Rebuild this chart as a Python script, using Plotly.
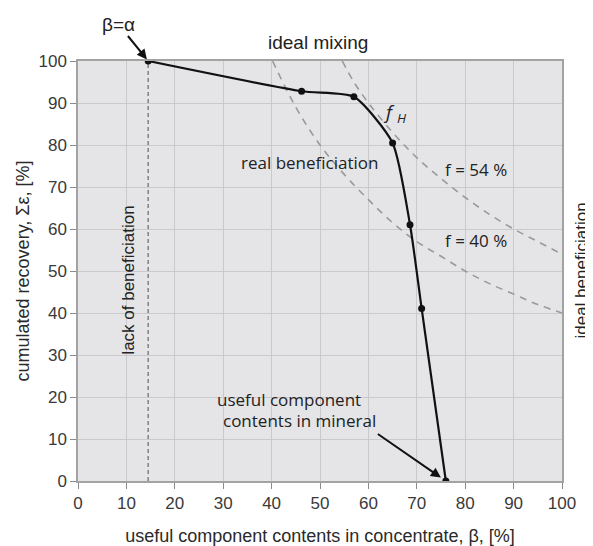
import plotly.graph_objects as go

# measured beneficiation curve (beta, cumulated recovery)
beta = [14.5, 46.2, 57.0, 65.0, 68.6, 71.0, 76.0]
recovery = [100, 92.8, 91.5, 80.5, 61.0, 41.1, 0]

# isolines
f54_x = [54.6, 57, 60, 65, 70, 75, 80, 85, 90, 95, 100]
f54_y = [100, 95, 90, 83, 77, 72, 67.5, 63.5, 60, 57, 54]
f40_x = [40.2, 45, 50, 55, 60, 65, 70, 75, 80, 85, 90, 95, 100]
f40_y = [100, 89, 80, 73, 67, 61.5, 57, 53.5, 50, 47, 44.5, 42, 40]

# feed grade (vertical "lack of beneficiation" line)
alpha_x = [14.5, 14.5]
alpha_y = [0, 100]

x_ticks = list(range(0, 101, 10))
y_ticks = list(range(0, 101, 10))

SANS = "Liberation Sans, Arial, sans-serif"
HUM = "Open Sans, Noto Sans, sans-serif"

fig = go.Figure()

fig.add_trace(go.Scatter(x=f54_x, y=f54_y, mode="lines", line_shape="spline",
                         line=dict(color="#9a9a9a", width=1.6, dash="7px,6px"),
                         hoverinfo="skip"))
fig.add_trace(go.Scatter(x=f40_x, y=f40_y, mode="lines", line_shape="spline",
                         line=dict(color="#9a9a9a", width=1.6, dash="7px,6px"),
                         hoverinfo="skip"))
fig.add_trace(go.Scatter(x=alpha_x, y=alpha_y, mode="lines",
                         line=dict(color="#808080", width=1.5, dash="4px,3px"),
                         hoverinfo="skip"))
fig.add_trace(go.Scatter(x=beta, y=recovery, mode="lines+markers",
                         line=dict(color="#111111", width=2.2, shape="spline", smoothing=0.6),
                         marker=dict(color="#111111", size=7)))

annotations = [
    dict(text="β=α", x=14.5, y=100, ax=-30, ay=-37, showarrow=True,
         arrowhead=2, arrowsize=1, arrowwidth=2, arrowcolor="#111", standoff=2,
         font=dict(family=SANS, size=19, color="#222")),
    dict(text="ideal mixing", xref="paper", yref="paper", x=0.496, y=1.045,
         xanchor="center", yanchor="middle", showarrow=False,
         font=dict(family=SANS, size=19, color="#222")),
    dict(text="<i>f <sub>H</sub></i>", x=65.5, y=87.7, showarrow=False,
         font=dict(family=HUM, size=19, color="#222")),
    dict(text="real beneficiation", x=47.9, y=75.8, showarrow=False,
         font=dict(family=HUM, size=17, color="#222")),
    dict(text="f = 54 %", x=82.2, y=74.1, showarrow=False,
         font=dict(family=HUM, size=17, color="#222")),
    dict(text="f = 40 %", x=82.2, y=57.2, showarrow=False,
         font=dict(family=HUM, size=17, color="#222")),
    dict(text="useful component", x=43.6, y=19.5, showarrow=False,
         font=dict(family=HUM, size=17, color="#222")),
    dict(text="contents in mineral", x=76, y=0, ax=-68, ay=-47, showarrow=True,
         xanchor="right", yanchor="bottom",
         arrowhead=2, arrowsize=1, arrowwidth=2, arrowcolor="#111", standoff=6,
         font=dict(family=HUM, size=17, color="#222")),
    dict(text="lack of beneficiation", x=10.5, y=47.9, textangle=-90, showarrow=False,
         font=dict(family=SANS, size=17, color="#222")),
    dict(text="ideal beneficiation", xref="paper", yref="paper", x=1.040, y=0.502,
         xanchor="center", yanchor="middle",
         textangle=-90, showarrow=False, font=dict(family=SANS, size=17, color="#222")),
]

axis_common = dict(
    showgrid=True, gridcolor="#cacacd", gridwidth=1,
    showline=True, linecolor="#a3a3a3", linewidth=1.5, mirror=True,
    ticks="outside", ticklen=6, tickcolor="#8a8a8a",
    tickfont=dict(family=SANS, size=17, color="#3a3a3a"),
    zeroline=False, automargin=False,
)

fig.update_layout(
    width=585, height=538,
    margin=dict(l=70, r=31, t=53, b=65),
    paper_bgcolor="white", plot_bgcolor="#e5e5e8",
    showlegend=False,
    annotations=annotations,
    xaxis=dict(range=[0, 100], tickvals=x_ticks, **axis_common,
               title=dict(text="useful component contents in concentrate, β, [%]",
                          font=dict(family=SANS, size=18, color="#2a2a2a"), standoff=17)),
    yaxis=dict(range=[0, 100], tickvals=y_ticks, **axis_common,
               title=dict(text="cumulated recovery, Σε, [%]",
                          font=dict(family=SANS, size=18, color="#2a2a2a"), standoff=4)),
)

fig.write_html("out.html")
